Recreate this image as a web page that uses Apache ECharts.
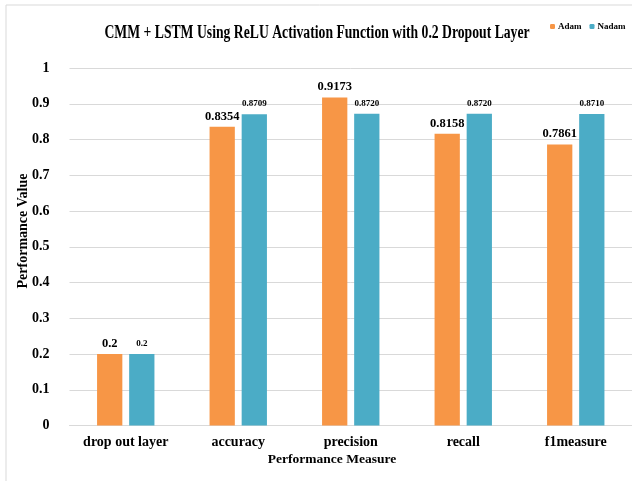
<!DOCTYPE html>
<html>
<head>
<meta charset="utf-8">
<script src="https://cdn.jsdelivr.net/npm/echarts@6/dist/echarts.min.js"></script>
<style>
  html, body { margin: 0; padding: 0; background: #fff; }
  #chart { width: 632px; height: 481px; }
</style>
</head>
<body>
<div id="chart"></div>
<script>
// Performance measures and the scores for each optimizer
const categories = ['drop out layer', 'accuracy', 'precision', 'recall', 'f1measure'];
const adamValues = [0.2, 0.8354, 0.9173, 0.8158, 0.7861];
const nadamValues = [0.2, 0.8709, 0.8720, 0.8720, 0.8710];
const adamLabels = ['0.2', '0.8354', '0.9173', '0.8158', '0.7861'];
const nadamLabels = ['0.2', '0.8709', '0.8720', '0.8720', '0.8710'];

const titleText = 'CMM + LSTM Using ReLU Activation Function with 0.2 Dropout Layer';
const xAxisTitle = 'Performance Measure';
const yAxisTitle = 'Performance Value';

const FONT = '"Liberation Serif", "Times New Roman", serif';
const ORANGE = '#F79646';
const TEAL = '#4BACC6';

const chart = echarts.init(document.getElementById('chart'));
chart.setOption({
  backgroundColor: '#ffffff',
  animation: false,
  textStyle: { fontFamily: FONT },
  graphic: [
    {
      // chart-area frame
      type: 'rect',
      shape: { x: 6, y: 5, width: 800, height: 700 },
      style: { fill: 'none', stroke: '#d9d9d9', lineWidth: 1 },
      silent: true
    },
    {
      // condensed bold heading
      type: 'text',
      x: 317, y: 33,
      scaleX: 0.76,
      style: {
        text: titleText, x: 0, y: 0,
        textAlign: 'center', textVerticalAlign: 'middle',
        font: 'bold 18px ' + FONT, fill: '#000'
      },
      silent: true
    },
    {
      type: 'text',
      x: 332, y: 460,
      style: {
        text: xAxisTitle, x: 0, y: 0,
        textAlign: 'center', textVerticalAlign: 'middle',
        font: 'bold 13.5px ' + FONT, fill: '#000'
      },
      silent: true
    },
    {
      type: 'text',
      x: 23, y: 231,
      rotation: Math.PI / 2,
      style: {
        text: yAxisTitle, x: 0, y: 0,
        textAlign: 'center', textVerticalAlign: 'middle',
        font: 'bold 14px ' + FONT, fill: '#000'
      },
      silent: true
    }
  ],
  legend: {
    data: ['Adam', 'Nadam'],
    left: 545,
    top: 17,
    itemWidth: 5,
    itemHeight: 5,
    itemGap: 8,
    textStyle: { fontFamily: FONT, fontSize: 9, fontWeight: 'bold', color: '#000', padding: [0, 0, 0, -2] }
  },
  grid: { left: 69.5, width: 565, top: 68, height: 357.5 },
  xAxis: {
    type: 'category',
    data: categories,
    axisLine: { lineStyle: { color: '#d9d9d9' } },
    axisTick: { show: false },
    axisLabel: { fontFamily: FONT, fontSize: 14, fontWeight: 'bold', color: '#000', margin: 10 }
  },
  yAxis: {
    type: 'value',
    min: 0,
    max: 1,
    interval: 0.1,
    axisLine: { show: false },
    axisTick: { show: false },
    splitLine: { lineStyle: { color: '#d9d9d9' } },
    axisLabel: {
      fontFamily: FONT, fontSize: 14, fontWeight: 'bold', color: '#000', margin: 20,
      formatter: v => String(Math.round(v * 10) / 10)
    }
  },
  series: [
    {
      name: 'Adam',
      type: 'bar',
      data: adamValues,
      itemStyle: { color: ORANGE },
      barGap: '27%',
      barCategoryGap: '49%',
      label: {
        show: true, position: 'top', distance: 4,
        fontFamily: FONT, fontSize: 12.5, fontWeight: 'bold', color: '#000',
        formatter: p => adamLabels[p.dataIndex]
      }
    },
    {
      name: 'Nadam',
      type: 'bar',
      data: nadamValues,
      itemStyle: { color: TEAL },
      barGap: '27%',
      barCategoryGap: '49%',
      label: {
        show: true, position: 'top', distance: 6,
        fontFamily: FONT, fontSize: 9, fontWeight: 'bold', color: '#000',
        formatter: p => nadamLabels[p.dataIndex]
      }
    }
  ]
});
</script>
</body>
</html>
